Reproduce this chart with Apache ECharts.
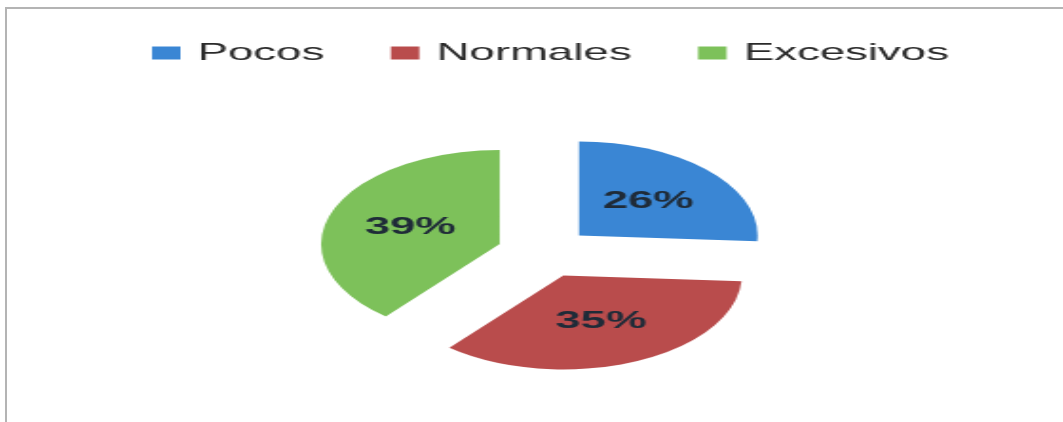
<!DOCTYPE html>
<html>
<head>
<meta charset="utf-8">
<script src="https://cdn.jsdelivr.net/npm/echarts@6/dist/echarts.min.js"></script>
<style>
  html, body { margin: 0; padding: 0; background: #fff; overflow: hidden; }
  #frame { position: absolute; left: 5px; top: 7px; width: 1100px; height: 500px;
           border-top: 2px solid #b4b4b4; border-left: 2px solid #b4b4b4; }
  #chart { position: absolute; left: 0; top: 0; width: 559.5px; height: 422px;
           transform: scaleX(1.9); transform-origin: 0 0; }
</style>
</head>
<body>
<div id="frame"></div>
<div id="chart"></div>
<script>
const categories = ['Pocos', 'Normales', 'Excesivos'];
const values = [26, 35, 39];
const colors = ['#3a86d4', '#b94c4c', '#7dc15a'];

const chart = echarts.init(document.getElementById('chart'), null, { renderer: 'canvas' });
chart.setOption({
  animation: false,
  backgroundColor: 'transparent',
  color: colors,
  legend: {
    data: categories,
    left: 75,
    top: 36,
    icon: 'rect',
    itemWidth: 15,
    itemHeight: 13,
    itemGap: 35,
    selectedMode: false,
    textStyle: { fontFamily: 'Liberation Sans', fontSize: 24, color: '#2a2a2a', padding: [0, 0, 0, 4] }
  },
  series: [{
    type: 'pie',
    center: [286.5, 252.5],
    radius: [0, 94],
    startAngle: 90,
    clockwise: true,
    selectedMode: 'multiple',
    selectedOffset: 25,
    emphasis: { scale: false },
    label: {
      show: true,
      position: 'inside',
      formatter: '{c}%',
      fontFamily: 'Liberation Sans',
      fontWeight: 'bold',
      fontSize: 24,
      color: '#1f2b38'
    },
    labelLine: { show: false },
    itemStyle: { borderWidth: 0 },
    data: categories.map((c, i) => ({ name: c, value: values[i], selected: true }))
  }]
});
</script>
</body>
</html>
